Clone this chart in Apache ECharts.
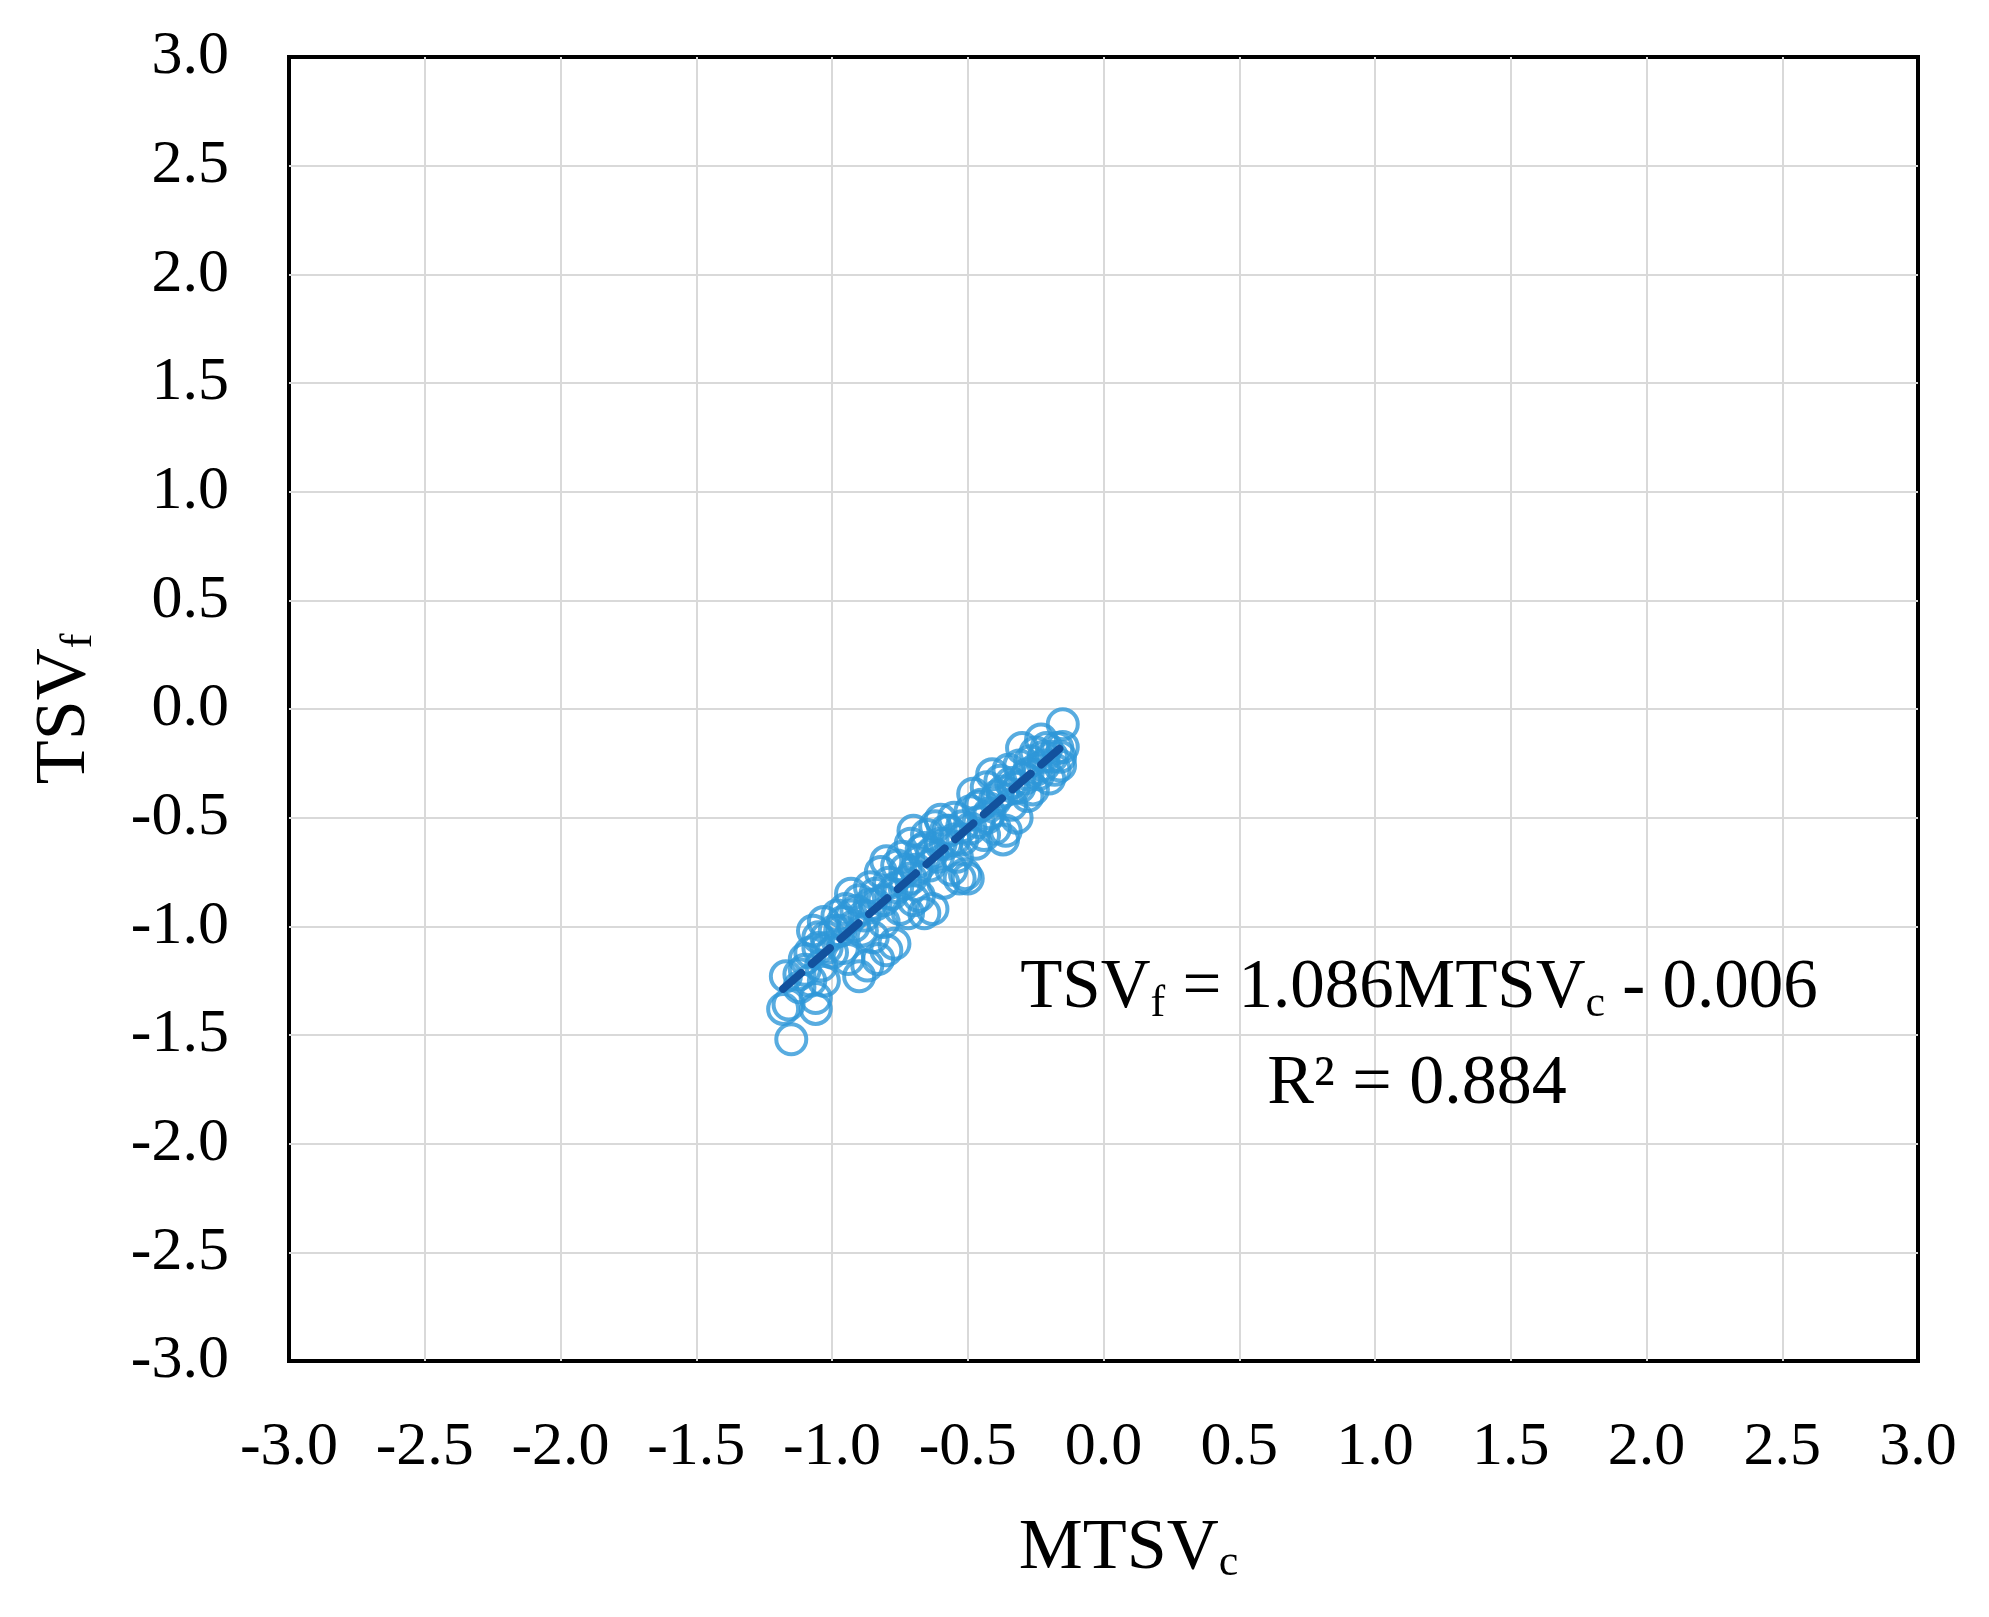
<!DOCTYPE html>
<html>
<head>
<meta charset="utf-8">
<script src="https://cdn.jsdelivr.net/npm/echarts@6/dist/echarts.min.js"></script>
<style>
  html, body { margin: 0; padding: 0; background: #fff; }
  #chart { width: 1989px; height: 1617px; }
</style>
</head>
<body>
<div id="chart"></div>
<script>
const FONTFAMILY = '"Liberation Serif", "DejaVu Serif", serif';
const FONTCOLOR = '#000';
const MARKERCOLOR = '#2E97D8';
const TRENDCOLOR = '#12529E';

// axis ticks
const axisMin = -3;
const axisMax = 3;
const axisStep = 0.5;

// survey points: MTSVc (x) vs TSVf (y)
const mtsvC = [
  -1.17, -1.18, -1.15, -1.16, -1.12, -1.10, -1.06, -1.06, -1.07, -1.05, -1.04, -1.03, -1.02, -1.00, -1.12, -1.08, -1.03,
  -0.98, -0.97, -0.96, -0.95, -0.94, -0.93, -0.92, -0.90, -0.90, -0.88, -0.87, -0.86, -0.85, -0.84, -0.83, -0.82, -0.81, -0.80, -0.80, -0.78, -0.77,
  -0.76, -0.75, -0.74, -0.73, -0.72, -0.71, -0.70, -0.70, -0.69, -0.68, -0.67, -0.66, -0.65, -0.64, -0.63, -0.62, -0.61, -0.60,
  -0.59, -0.58, -0.57, -0.56, -0.55, -0.54, -0.53, -0.52, -0.51, -0.50, -0.49, -0.48, -0.47, -0.46, -0.45, -0.44, -0.43, -0.42, -0.41,
  -0.40, -0.39, -0.38, -0.37, -0.36, -0.35, -0.34, -0.33, -0.32, -0.31, -0.30, -0.29, -0.28, -0.27, -0.26, -0.25, -0.24, -0.23, -0.22, -0.21, -0.20, -0.19, -0.18, -0.17, -0.16, -0.15, -0.15, -0.16,
  -1.10, -1.08, -1.05, -1.02, -0.99, -0.96, -0.93, -0.91, -0.89, -0.86, -0.84, -0.81, -0.79, -0.76, -0.73, -0.71, -0.68,
  -0.66, -0.63, -0.60, -0.58, -0.55, -0.52, -0.49, -0.46, -0.43, -0.40, -0.37, -0.34, -0.31, -0.28, -0.25, -0.22
];
const tsvF = [
  -1.23, -1.38, -1.52, -1.36, -1.22, -1.15, -1.38, -1.33, -1.02, -1.10, -1.18, -0.98, -1.05, -1.12, -1.28, -1.25, -1.25,
  -0.95, -1.02, -1.10, -0.92, -1.15, -0.85, -1.00, -0.88, -1.23, -0.95, -1.18, -0.82, -1.05, -0.90, -1.15, -0.75, -0.98, -1.11, -0.70, -0.85, -1.08,
  -0.72, -0.92, -0.68, -0.80, -0.94, -0.62, -0.56, -0.88, -0.74, -0.86, -0.65, -0.94, -0.58, -0.72, -0.92, -0.54, -0.68, -0.51,
  -0.80, -0.62, -0.56, -0.74, -0.50, -0.68, -0.78, -0.60, -0.76, -0.78, -0.47, -0.39, -0.62, -0.52, -0.44, -0.58, -0.36, -0.48, -0.30,
  -0.55, -0.40, -0.33, -0.60, -0.56, -0.28, -0.44, -0.36, -0.50, -0.26, -0.18, -0.32, -0.40, -0.24, -0.37, -0.20, -0.30, -0.14, -0.26, -0.18, -0.32, -0.22, -0.28, -0.18, -0.22, -0.175, -0.07, -0.26,
  -1.20, -1.12, -1.05, -1.10, -1.02, -0.98, -0.95, -0.93, -1.02, -0.90, -0.85, -0.88, -0.80, -0.82, -0.74, -0.78, -0.70,
  -0.64, -0.66, -0.62, -0.56, -0.60, -0.54, -0.55, -0.45, -0.50, -0.42, -0.38, -0.34, -0.36, -0.30, -0.28, -0.22
];

// linear trend shown on the chart
const slope = 1.086;
const intercept = -0.006;
const rSquared = 0.884;

const points = mtsvC.map((x, i) => [x, tsvF[i]]);
const xLo = Math.min(...mtsvC);
const xHi = Math.max(...mtsvC);
const trend = [[xLo, slope * xLo + intercept], [xHi, slope * xHi + intercept]];

const textStyle = {
  color: FONTCOLOR,
  fontFamily: FONTFAMILY,
  fontSize: 62,
};

const subStyle = { fontFamily: FONTFAMILY, fontSize: 44, color: FONTCOLOR, padding: [28, 0, 0, 0] };

const axisCommon = {
  type: 'value',
  min: axisMin,
  max: axisMax,
  interval: axisStep,
  axisLine: { show: false },
  axisTick: { show: false },
  splitLine: { show: true, showMinLine: false, showMaxLine: false, lineStyle: { color: '#D9D9D9', width: 2 } },
  axisLabel: {
    ...textStyle,
    formatter: v => v.toFixed(1),
  },
};

const chart = echarts.init(document.getElementById('chart'));

chart.setOption({
  backgroundColor: '#fff',
  animation: false,
  grid: {
    left: 289,
    right: 71,
    top: 57,
    bottom: 256,
    show: true,
    borderColor: '#000',
    borderWidth: 4,
    backgroundColor: 'transparent',
  },
  xAxis: {
    ...axisCommon,
    axisLabel: { ...axisCommon.axisLabel, margin: 56 },
    name: 'MTSV{sub|c}',
    nameLocation: 'middle',
    nameGap: 152,
    nameTextStyle: {
      ...textStyle,
      fontSize: 72,
      padding: [0, 0, 0, 50],
      rich: { sub: subStyle },
    },
  },
  yAxis: {
    ...axisCommon,
    axisLabel: { ...axisCommon.axisLabel, margin: 60 },
    name: 'TSV{sub|f}',
    nameLocation: 'middle',
    nameGap: 188,
    nameRotate: 90,
    nameTextStyle: {
      ...textStyle,
      fontSize: 72,
      rich: { sub: subStyle },
    },
  },
  graphic: [
    {
      type: 'text',
      x: 1419,
      y: 989,
      z: 10,
      style: {
        text: 'TSV{sub|f} = 1.086MTSV{sub|c} - 0.006',
        font: '69px ' + FONTFAMILY,
        fill: FONTCOLOR,
        align: 'center',
        verticalAlign: 'middle',
        rich: { sub: { fontFamily: FONTFAMILY, fontSize: 44, fill: FONTCOLOR, padding: [30, 0, 0, 0] } },
      },
    },
    {
      type: 'text',
      x: 1417,
      y: 1085,
      z: 10,
      style: {
        text: 'R² = ' + rSquared.toFixed(3),
        font: '70px ' + FONTFAMILY,
        fill: FONTCOLOR,
        align: 'center',
        verticalAlign: 'middle',
      },
    },
  ],
  series: [
    {
      type: 'scatter',
      data: points,
      symbol: 'circle',
      symbolSize: 30,
      itemStyle: { color: 'rgba(0,0,0,0)', borderColor: MARKERCOLOR, borderWidth: 4 },
      z: 2,
    },
    {
      type: 'line',
      data: trend,
      symbol: 'none',
      lineStyle: { color: TRENDCOLOR, width: 8, type: [24, 14], cap: 'round' },
      z: 3,
    },
  ],
});
</script>
</body>
</html>
